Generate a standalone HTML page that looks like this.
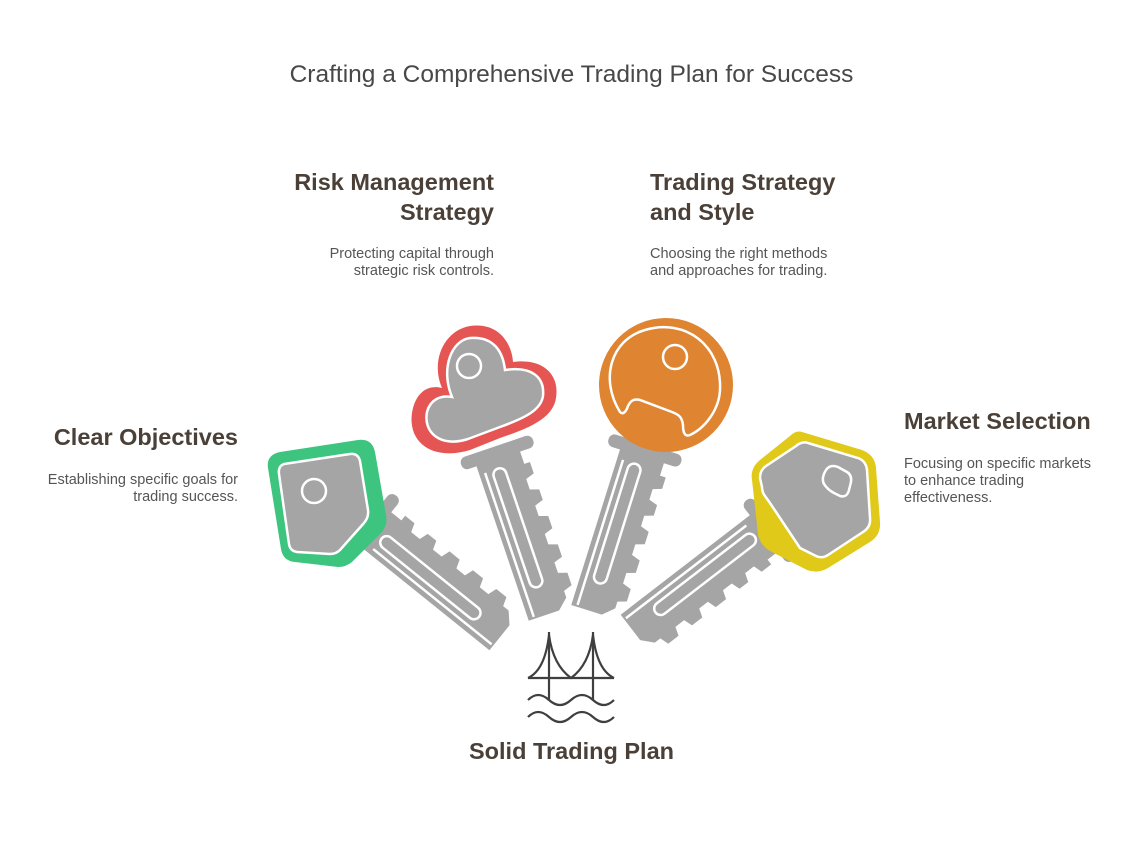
<!DOCTYPE html>
<html><head><meta charset="utf-8"><style>
body{margin:0;background:#fff;width:1143px;height:858px;overflow:hidden;position:relative;font-family:"Liberation Sans",sans-serif}
.t{position:absolute;white-space:nowrap}
h{display:block;font-weight:bold;font-size:23.5px;color:#4a4038;line-height:30px}
p{margin:0;font-size:14.5px;color:#555;line-height:17px}
</style></head><body>
<div class="t" style="left:0;width:1143px;text-align:center;top:61px;font-size:24.5px;color:#484848">Crafting a Comprehensive Trading Plan for Success</div>
<div class="t" style="right:649px;top:167px;text-align:right"><h>Risk Management<br>Strategy</h></div>
<div class="t" style="right:649px;top:246px;text-align:right"><p>Protecting capital through<br>strategic risk controls.</p></div>
<div class="t" style="left:650px;top:167px"><h>Trading Strategy<br>and Style</h></div>
<div class="t" style="left:650px;top:246px"><p>Choosing the right methods<br>and approaches for trading.</p></div>
<div class="t" style="right:905px;top:422px;text-align:right"><h>Clear Objectives</h></div>
<div class="t" style="right:905px;top:472px;text-align:right"><p>Establishing specific goals for<br>trading success.</p></div>
<div class="t" style="left:904px;top:406px"><h>Market Selection</h></div>
<div class="t" style="left:904px;top:456px"><p>Focusing on specific markets<br>to enhance trading<br>effectiveness.</p></div>
<div class="t" style="left:0;width:1143px;text-align:center;top:736px"><h>Solid Trading Plan</h></div>
<svg width="1143" height="858" style="position:absolute;left:0;top:0">
<defs>
<g id="blade">
<polygon fill="#a5a5a5" points="6,24 6,-22 20,-22 20,-28 32,-28 35,-19 46,-19 49,-28 60,-28 63,-19 74,-19 77,-28 90,-28 93,-19 104,-19 107,-28 120,-28 123,-19 134,-19 137,-28 150,-28 153,-19 160,-19 170,-8 170,24"/>
<rect x="-6" y="-38" width="13" height="76" rx="6" fill="#a5a5a5"/>
<rect x="16" y="-2" width="125" height="13" rx="6.5" fill="none" stroke="#fff" stroke-width="2.5"/>
<line x1="16" y1="18" x2="168" y2="18" stroke="#fff" stroke-width="2.5"/>
</g>
</defs>
<use href="#blade" transform="translate(372,525) rotate(38.8)"/>
<path d="M280,452 L358,440 Q372,438 375,452 L386,515 Q388,524 382,532 L352,562 Q346,567 338,567 L295,562 Q283,561 281,549 L268,468 Q266,455 280,452Z" fill="#3dc47f"/>
<path d="M284,464 L350,454 Q358,453 360,461 L368,510 Q369,517 364,523 L340,550 Q336,554 330,554 L297,552 Q290,551 289,544 L279,474 Q278,466 284,464Z" fill="#a5a5a5" stroke="#fff" stroke-width="2.5"/>
<circle cx="314" cy="491" r="12" fill="none" stroke="#fff" stroke-width="2.5"/>
<use href="#blade" transform="translate(497,452) rotate(71.3)"/>
<path d="M470,326 C500,322 512,345 513,362 C540,358 560,372 556,398 C553,418 530,428 500,438 L470,450 C430,462 405,440 413,408 C418,390 430,385 442,388 C430,360 445,330 470,326Z" fill="#e55553"/>
<path d="M470,338 C494,336 503,352 505,370 C530,366 545,376 543,396 C541,410 525,418 500,427 L468,439 C440,448 423,432 427,412 C430,400 440,395 452,397 C440,368 452,340 470,338Z" fill="#a5a5a5" stroke="#fff" stroke-width="2.5"/>
<circle cx="469" cy="366" r="12" fill="none" stroke="#fff" stroke-width="2.5"/>
<use href="#blade" transform="translate(645,450) rotate(107.4)"/>
<circle cx="666" cy="385" r="67" fill="#df8431"/>
<path d="M620,412 C600,380 610,340 645,330 C685,318 722,345 720,390 C719,410 705,428 690,435 C685,437 683,433 683,425 C682,418 680,415 672,412 L640,400 C633,398 630,402 628,406 C626,412 623,415 620,412Z" fill="none" stroke="#fff" stroke-width="2.5"/>
<circle cx="675" cy="357" r="12" fill="none" stroke="#fff" stroke-width="2.5"/>
<use href="#blade" transform="translate(770,530) rotate(142.4)"/>
<path d="M802,432 L862,450 Q875,455 876,468 L880,522 Q881,535 870,542 L828,568 Q818,574 807,570 L772,552 Q760,546 758,534 L752,480 Q750,468 760,460 L790,436 Q796,430 802,432Z" fill="#e0c919"/>
<path d="M808,443 L858,458 Q866,461 867,470 L870,518 Q871,527 863,532 L828,555 Q822,559 816,556 L800,548 L770,503 L765,496 Q762,492 762,487 L760,478 Q760,470 766,466 L796,446 Q802,441 808,443Z" fill="#a5a5a5" stroke="#fff" stroke-width="2.5"/>
<path d="M826,470 Q830,464 838,467 L847,472 Q852,475 851,482 L849,490 Q847,498 840,496 L834,493 Q828,490 824,484 Q821,478 826,470Z" fill="none" stroke="#fff" stroke-width="2.5"/>
<g fill="none" stroke="#3f3f3f" stroke-width="2.2">
<line x1="549" y1="632" x2="549" y2="700"/><line x1="593" y1="632" x2="593" y2="700"/>
<path d="M528,678 Q545,670 549,635 Q553,665 571,678 Q589,665 593,635 Q597,670 614,678"/>
<line x1="528" y1="678" x2="614" y2="678"/>
<path d="M528,700 Q538,690 549,700 Q560,710 571,700 Q582,690 593,700 Q604,710 614,700"/>
<path d="M528,717 Q538,707 549,717 Q560,727 571,717 Q582,707 593,717 Q604,727 614,717"/>
</g>
</svg>
</body></html>
